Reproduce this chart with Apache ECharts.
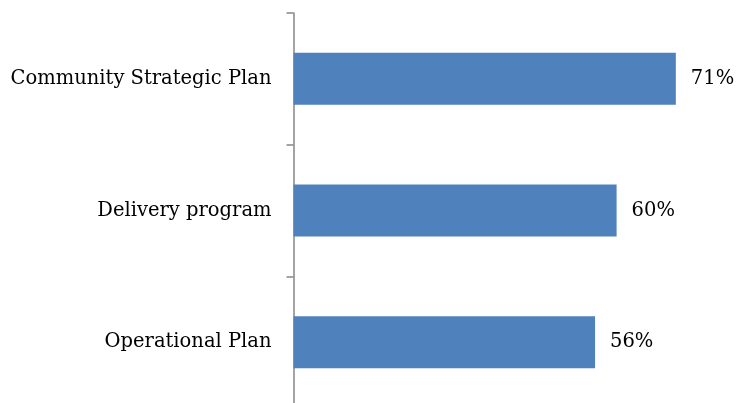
<!DOCTYPE html>
<html>
<head>
<meta charset="utf-8">
<script src="https://cdn.jsdelivr.net/npm/echarts@6/dist/echarts.min.js"></script>
<style>
  html, body { margin: 0; padding: 0; background: #ffffff; }
  #chart { width: 738px; height: 403px; }
</style>
</head>
<body>
<div id="chart"></div>
<script>
// Plan categories, listed bottom to top as the category axis draws them
const categories = ['Operational Plan', 'Delivery program', 'Community Strategic Plan'];
// Share of respondents for each plan (%)
const values = [56, 60, 71];

const FONT = 'DejaVu Serif';

const chart = echarts.init(document.getElementById('chart'), null, { renderer: 'canvas' });

chart.setOption({
  animation: false,
  backgroundColor: '#ffffff',
  grid: {
    left: 293.5, width: 430.8, top: 13, height: 395,
    containLabel: false,
    outerBoundsMode: 'none'
  },
  xAxis: {
    type: 'value',
    min: 0,
    max: 80,
    show: false
  },
  yAxis: {
    type: 'category',
    data: categories,
    axisLine: { show: true, lineStyle: { color: '#868686', width: 1.5 } },
    axisTick: { show: true, length: 7, lineStyle: { color: '#868686', width: 1.5 } },
    axisLabel: { color: '#000000', fontFamily: FONT, fontSize: 19.5, margin: 22 },
    splitLine: { show: false }
  },
  series: [{
    type: 'bar',
    data: values,
    barWidth: 52,
    itemStyle: { color: '#4f81bd' },
    label: {
      show: true,
      position: 'right',
      distance: 15,
      formatter: p => p.value + '%',
      color: '#000000',
      fontFamily: FONT,
      fontSize: 19.5
    }
  }]
});
</script>
</body>
</html>
